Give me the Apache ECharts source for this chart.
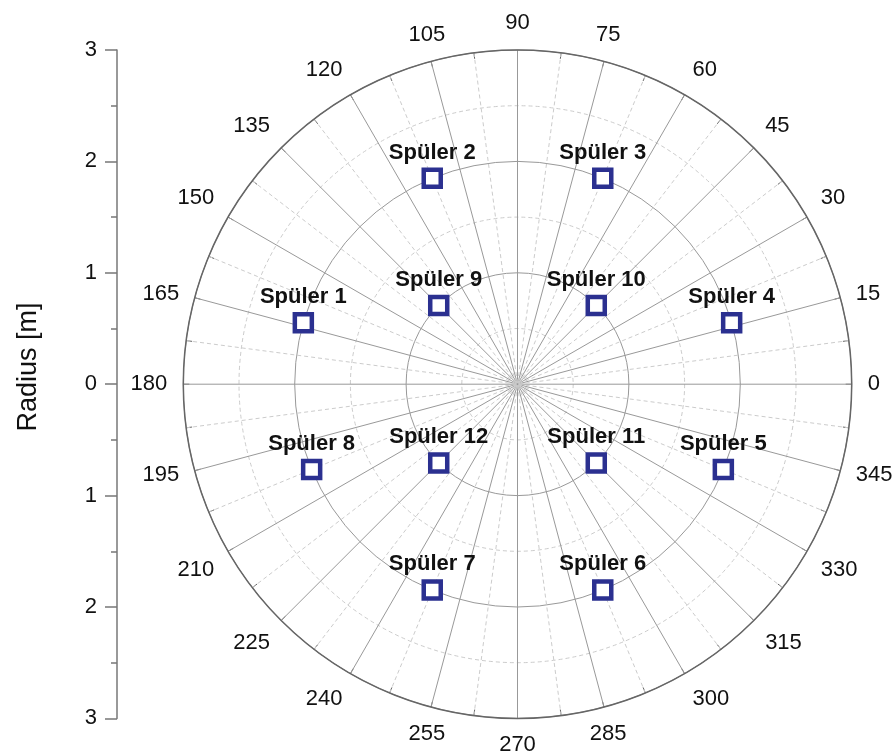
<!DOCTYPE html>
<html>
<head>
<meta charset="utf-8">
<script src="https://cdn.jsdelivr.net/npm/echarts@6/dist/echarts.min.js"></script>
<style>
html,body{margin:0;padding:0;background:#fff;}
#chart{width:895px;height:756px;}
</style>
</head>
<body>
<div id="chart"></div>
<script>
// Data
const names = ['Spüler 1','Spüler 2','Spüler 3','Spüler 4','Spüler 5','Spüler 6','Spüler 7','Spüler 8','Spüler 9','Spüler 10','Spüler 11','Spüler 12'];
const radii = [2, 2, 2, 2, 2, 2, 2, 2, 1, 1, 1, 1];
const angles = [164, 112.5, 67.5, 16, 337.5, 292.5, 247.5, 202.5, 135, 45, 315, 225];
const radiusTicks = [-3, -2, -1, 0, 1, 2, 3];
const axisTitle = 'Radius [m]';

const font = '"Liberation Sans", Arial, sans-serif';
const cx = 517.5, cy = 384.2, R = 334.2;

const chart = echarts.init(document.getElementById('chart'), null, {renderer: 'canvas'});
const option = {
  animation: false,
  backgroundColor: '#fff',
  grid: {left: 117, top: cy - R, width: 1, height: 2 * R},
  xAxis: {type: 'value', show: false},
  yAxis: {
    type: 'value', min: radiusTicks[0], max: radiusTicks[radiusTicks.length - 1], interval: 1,
    axisLine: {show: true, lineStyle: {color: '#777', width: 1.5}},
    axisTick: {show: true, length: 12, lineStyle: {color: '#777', width: 1.5}},
    minorTick: {show: true, splitNumber: 2, length: 6, lineStyle: {color: '#777', width: 1.5}},
    splitLine: {show: false},
    axisLabel: {margin: 20, fontSize: 22, fontFamily: font, color: '#111', formatter: v => String(Math.abs(v))}
  },
  polar: {center: [cx, cy], radius: R},
  angleAxis: {
    type: 'value', min: 0, max: 360, interval: 15, startAngle: 0, clockwise: false,
    axisLine: {show: true, lineStyle: {color: '#666', width: 1.5}},
    axisTick: {show: true, inside: true, length: 6, lineStyle: {color: '#666', width: 1}},
    minorTick: {show: true, splitNumber: 2, length: 6, lineStyle: {color: '#666', width: 1}},
    axisLabel: {margin: 16, fontSize: 22, fontFamily: font, color: '#111',
      formatter: v => (v >= 360 ? '' : String(v))},
    splitLine: {show: true, lineStyle: {color: '#999', width: 1}},
    minorSplitLine: {show: true, lineStyle: {color: '#ccc', width: 1, type: [4, 3]}}
  },
  radiusAxis: {
    type: 'value', min: 0, max: 3, interval: 1,
    axisLine: {show: false}, axisTick: {show: false}, axisLabel: {show: false},
    minorTick: {show: false, splitNumber: 2},
    splitLine: {show: true, lineStyle: {color: '#999', width: 1}},
    minorSplitLine: {show: true, lineStyle: {color: '#ccc', width: 1, type: [4, 3]}}
  },
  graphic: [{
    type: 'text', x: 29, y: 367, rotation: Math.PI / 2,
    style: {text: axisTitle, font: '27px ' + font, fill: '#111', align: 'center', verticalAlign: 'middle'}
  }],
  series: [{
    type: 'scatter', coordinateSystem: 'polar',
    symbol: 'rect', symbolSize: 17,
    itemStyle: {color: '#fff', borderColor: '#2B3090', borderWidth: 4.5, opacity: 1},
    label: {show: true, position: 'top', distance: 4, formatter: p => p.name,
      fontSize: 22, fontWeight: 'bold', fontFamily: font, color: '#111'},
    data: names.map((n, i) => ({name: n, value: [radii[i], angles[i]]}))
  }]
};
chart.setOption(option);
</script>
</body>
</html>
